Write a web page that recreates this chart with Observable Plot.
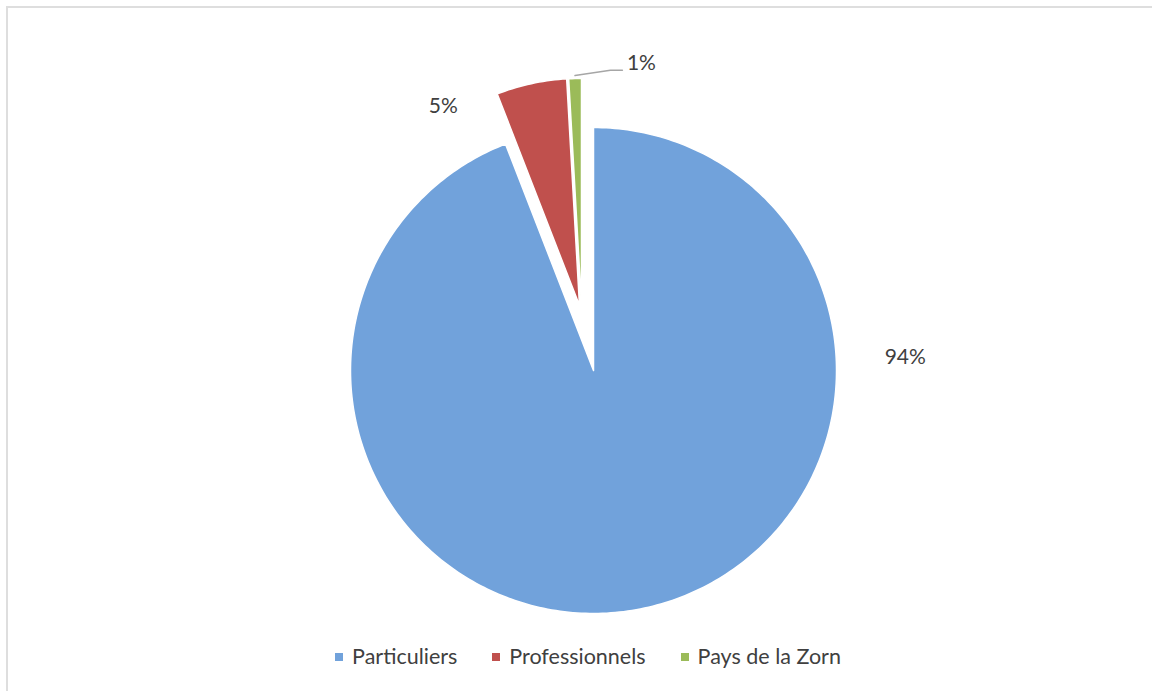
<!DOCTYPE html>
<html>
<head>
<meta charset="utf-8">
<script src="https://cdn.jsdelivr.net/npm/d3@7"></script>
<script src="https://cdn.jsdelivr.net/npm/@observablehq/plot@0.6"></script>
<style>
  html, body { margin: 0; padding: 0; background: #fff; }
  body { position: relative; width: 1152px; height: 691px; overflow: hidden; font-family: Lato, "Liberation Sans", sans-serif; }
  #frame { position: absolute; left: 6px; top: 6px; width: 1170px; height: 700px; border: 2px solid #dedede; box-sizing: border-box; }
  #chart { position: absolute; left: 0; top: 0; }
  #legend { position: absolute; left: 6px; top: 642px; width: 1164px; height: 28px; display: flex; justify-content: center; align-items: center; gap: 35px; font-size: 21.5px; color: #404040; line-height: 28px; }
  #legend .item { display: flex; align-items: center; white-space: nowrap; }
  #legend .sw { display: inline-block; width: 8px; height: 8px; margin-right: 9px; margin-top: 1px; }
</style>
</head>
<body>
<div id="frame"></div>
<div id="chart"></div>
<div id="legend"></div>
<script>
// ---- data ----
const categories = ["Particuliers", "Professionnels", "Pays de la Zorn"];
const shares = [94.1, 5.0, 0.9];
const valueLabels = ["94%", "5%", "1%"];
const colors = ["#71A2DB", "#C0504D", "#9BBB59"];

// ---- layout (pixels) ----
const W = 1152, H = 635;
const CX = 593, CY = 370, R = 243;            // pie centre and radius
const sliceShift = [[0, 0], [-14, 65], [-12, 65]]; // explosion offsets (px, y up)
const sliceRadius = [243, 227, 227];
const labelPolar = [[87.6, 312], [330.4, 304], [8.86, 311]]; // bearing deg, distance px

const deg = Math.PI / 180;
const pie = d3.pie().sort(null).value(d => d)(shares);

// slice polygons in units of R
const pts = [];
pie.forEach((p, i) => {
  const ox = sliceShift[i][0] / R, oy = sliceShift[i][1] / R, rr = sliceRadius[i] / R;
  pts.push({name: categories[i], x: ox, y: oy});
  const n = Math.max(2, Math.ceil((p.endAngle - p.startAngle) / deg));
  for (let k = 0; k <= n; k++) {
    const a = p.startAngle + (p.endAngle - p.startAngle) * k / n;
    pts.push({name: categories[i], x: ox + rr * Math.sin(a), y: oy + rr * Math.cos(a)});
  }
});

const labelRows = valueLabels.map((t, i) => ({
  text: t,
  x: labelPolar[i][1] / R * Math.sin(labelPolar[i][0] * deg),
  y: labelPolar[i][1] / R * Math.cos(labelPolar[i][0] * deg)
}));

// leader line for the smallest slice
const g = pie[2];
const gm = (g.startAngle + g.endAngle) / 2;
const gr = (sliceRadius[2] + 3) / R;
const lab = labelRows[2];
const leader = [
  {x: sliceShift[2][0] / R + gr * Math.sin(gm), y: sliceShift[2][1] / R + gr * Math.cos(gm)},
  {x: lab.x - 31 / R, y: lab.y - 7 / R},
  {x: lab.x - 19 / R, y: lab.y - 7 / R}
];

const plot = Plot.plot({
  width: W, height: H,
  margin: 0,
  x: {domain: [(0 - CX) / R, (W - CX) / R], range: [0, W], axis: null},
  y: {domain: [-(H - CY) / R, CY / R], range: [H, 0], axis: null},
  color: {domain: categories, range: colors},
  style: {background: "transparent", overflow: "visible"},
  marks: [
    Plot.line(pts, {x: "x", y: "y", z: "name", fill: "name", stroke: "white", strokeWidth: 1.5, strokeLinejoin: "round", curve: "linear-closed"}),
    Plot.line(leader, {x: "x", y: "y", stroke: "#a6a6a6", strokeWidth: 1.5}),
    Plot.text(labelRows, {x: "x", y: "y", text: "text", fill: "#404040", fontSize: 21, fontFamily: "Lato, 'Liberation Sans', sans-serif"})
  ]
});
document.getElementById("chart").appendChild(plot);

// legend
const leg = document.getElementById("legend");
categories.forEach((c, i) => {
  const it = document.createElement("div");
  it.className = "item";
  const sw = document.createElement("span");
  sw.className = "sw";
  sw.style.background = colors[i];
  it.appendChild(sw);
  it.appendChild(document.createTextNode(c));
  leg.appendChild(it);
});
</script>
</body>
</html>
